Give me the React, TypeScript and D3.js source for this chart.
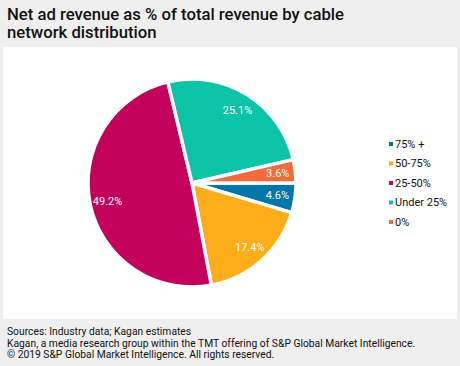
import React from 'react';
import * as d3 from 'd3';

const width = 460;
const height = 366;

const categories: string[] = ['75% +', '50-75%', '25-50%', 'Under 25%', '0%'];
const shares: number[] = [4.6, 17.4, 49.2, 25.1, 3.6];
const colors: string[] = ['#0077a8', '#fdad1a', '#c3005b', '#0bc3a6', '#f26b3a'];

const titleLines: string[] = ['Net ad revenue as % of total revenue by cable', 'network distribution'];
const footerLines: string[] = [
    'Sources: Industry data; Kagan estimates',
    'Kagan, a media research group within the TMT offering of S&P Global Market Intelligence.',
    '\u00a9 2019 S&P Global Market Intelligence. All rights reserved.',
];

const cx = 192;
const cy = 183;
const radius = 104;

const App = () => {
    const pie = d3.pie<number>()
        .sort(null)
        .startAngle(Math.PI / 2)
        .endAngle(Math.PI / 2 + 2 * Math.PI)
        .value(d => d);
    const arcs = pie(shares);
    const arc = d3.arc<d3.PieArcDatum<number>>().innerRadius(0).outerRadius(radius);
    const labelArc = d3.arc<d3.PieArcDatum<number>>().innerRadius(radius * 0.83).outerRadius(radius * 0.83);

    const legendY = d3.scalePoint<string>()
        .domain(categories)
        .range([144, 222]);

    return (
        <svg width={width} height={height} style={{ position: 'absolute', left: 0, top: 0, display: 'block' }}>
            <rect x={0} y={0} width={width} height={height} fill="#efefef" />
            <rect x={3} y={47} width={454} height={272} fill="#ffffff" />
            {titleLines.map((t, i) => (
                <text key={i} x={7} y={20 + i * 18} fontFamily="Roboto" fontWeight={500} fontSize={16.7} fill="#111">
                    {t}
                </text>
            ))}
            <g transform={`translate(${cx},${cy})`}>
                {arcs.map((a, i) => (
                    <path key={i} d={arc(a) || ''} fill={colors[i]} stroke="#ffffff" strokeWidth={3.5} strokeLinejoin="miter" />
                ))}
                {arcs.map((a, i) => {
                    const [x, y] = labelArc.centroid(a);
                    return (
                        <text key={i} x={x} y={y} dy="0.36em" textAnchor="middle" fontFamily="Roboto" fontSize={11} fill="#ffffff">
                            {shares[i].toFixed(1)}%
                        </text>
                    );
                })}
            </g>
            {categories.map((c, i) => (
                <g key={c} transform={`translate(389,${legendY(c)})`}>
                    <rect x={0} y={-2} width={4} height={4} fill={colors[i]} />
                    <text x={6} y={0} dy="0.36em" fontFamily="Roboto" fontSize={11} fill="#111">
                        {c}
                    </text>
                </g>
            ))}
            {footerLines.map((t, i) => (
                <text key={i} x={7} y={335 + i * 11.7} fontFamily="Roboto" fontSize={10.3} fill="#111">
                    {t}
                </text>
            ))}
        </svg>
    );
};

export default App;
